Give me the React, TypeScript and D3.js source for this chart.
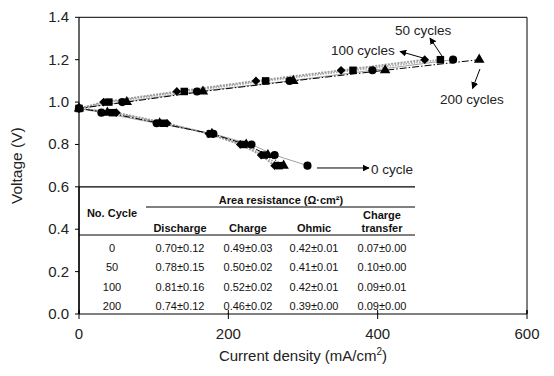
import React from "react";
import * as d3 from "d3";

// ---- data ----
const voltages = [0.70, 0.75, 0.80, 0.85, 0.90, 0.95, 0.97, 1.00, 1.05, 1.10, 1.15, 1.20];
const current0 = [306, 262, 231, 180, 104, 30, 0, 58, 158, 282, 393, 501];
const current50 = [268, 248, 220, 176, 113, 45, 0, 40, 141, 250, 367, 484];
const current100 = [262, 244, 216, 174, 118, 50, 0, 33, 131, 237, 351, 463];
const current200 = [274, 253, 224, 178, 108, 38, 0, 64, 166, 287, 410, 536];

const xTicks = [0, 200, 400, 600];
const yTicks = [0, 0.2, 0.4, 0.6, 0.8, 1.0, 1.2, 1.4];

const tableCycles = ["0", "50", "100", "200"];
const tableDischarge = ["0.70±0.12", "0.78±0.15", "0.81±0.16", "0.74±0.12"];
const tableCharge = ["0.49±0.03", "0.50±0.02", "0.52±0.02", "0.46±0.02"];
const tableOhmic = ["0.42±0.01", "0.41±0.01", "0.42±0.01", "0.39±0.00"];
const tableTransfer = ["0.07±0.00", "0.10±0.00", "0.09±0.01", "0.09±0.00"];

// annotations: label, text anchor (data), arrow tail, arrow head (data)
const annLabels = ["0 cycle", "100 cycles", "50 cycles", "200 cycles"];
const annText = [[391, 0.66], [337.5, 1.222], [423.2, 1.3167], [483.5, 0.991]];
const annTail = [[318.7, 0.689], [460.7, 1.208], [486.1, 1.2175], [537, 1.156]];
const annHead = [[388.4, 0.689], [429.9, 1.239], [470, 1.3025], [527, 1.064]];

const W = 554, H = 376;
const FONT = "'Liberation Sans', Arial, Helvetica, sans-serif";

export default function App() {
  const x = d3.scaleLinear().domain([0, 600]).range([79, 527]);
  const y = d3.scaleLinear().domain([0, 1.4]).range([314, 17.3]);

  const series = [
    { vals: current0, sym: "circle", stroke: "#8a8a8a", width: 0.8, dash: "" },
    { vals: current50, sym: "square", stroke: "#a8a8a8", width: 1.8, dash: "1.5,1.2" },
    { vals: current100, sym: "diamond", stroke: "#9a9a9a", width: 1.8, dash: "2,1.2" },
    { vals: current200, sym: "triangle", stroke: "#000", width: 1, dash: "7,2,1.5,2" },
  ];

  const line = d3
    .line<number>()
    .x((d) => x(d))
    .y((_, i) => y(voltages[i]));

  const symPath = (s: string) => {
    if (s === "circle") return d3.symbol().type(d3.symbolCircle).size(52)()!;
    if (s === "square") return d3.symbol().type(d3.symbolSquare).size(56)()!;
    if (s === "diamond") return d3.symbol().type(d3.symbolSquare).size(38)()!;
    return d3.symbol().type(d3.symbolTriangle).size(48)()!;
  };

  const tblX0 = x(0), tblX1 = x(450);
  const tTop = y(0.6);
  const colX = [112, 180, 248, 314, 382];
  const rowY = [252, 271, 291, 310];
  const cols = [tableCycles, tableDischarge, tableCharge, tableOhmic, tableTransfer];

  return (
    <svg width={W} height={H} style={{ display: "block", position: "absolute", left: 0, top: 0 }} fontFamily={FONT}>
      <defs>
        <marker id="ah" viewBox="0 0 10 10" refX="9" refY="5" markerWidth="7" markerHeight="7" markerUnits="userSpaceOnUse" orient="auto">
          <path d="M0,0 L10,5 L0,10 z" fill="#000" />
        </marker>
      </defs>
      <rect width={W} height={H} fill="#fff" />

      {/* series lines */}
      {series.map((s, i) => (
        <path key={"l" + i} d={line(s.vals)!} fill="none" stroke={s.stroke} strokeWidth={s.width} strokeDasharray={s.dash} />
      ))}
      {/* markers */}
      {series.map((s, i) =>
        s.vals.map((v, j) => (
          <path
            key={"m" + i + "-" + j}
            d={symPath(s.sym)}
            transform={`translate(${x(v)},${y(voltages[j])})${s.sym === "diamond" ? " rotate(45)" : ""}`}
            fill="#000"
          />
        ))
      )}

      {/* frame */}
      <line x1={x(0)} x2={x(600)} y1={y(1.4)} y2={y(1.4)} stroke="#000" strokeWidth={1} />
      <line x1={x(600)} x2={x(600)} y1={y(1.4)} y2={y(0)} stroke="#000" strokeWidth={1} />
      <line x1={x(0)} x2={x(600)} y1={y(0)} y2={y(0)} stroke="#000" strokeWidth={1.2} />
      <line x1={x(0)} x2={x(0)} y1={y(1.4)} y2={y(0)} stroke="#000" strokeWidth={1.2} />

      {/* y ticks */}
      {yTicks.map((t) => (
        <g key={"y" + t}>
          <line x1={x(0) - 4} x2={x(0)} y1={y(t)} y2={y(t)} stroke="#000" />
          <text x={69} y={y(t) + 5} textAnchor="end" fontSize={15} fill="#222">
            {t.toFixed(1)}
          </text>
        </g>
      ))}
      {/* x ticks */}
      {xTicks.map((t) => (
        <g key={"x" + t}>
          <line x1={x(t)} x2={x(t)} y1={y(0) - 4} y2={y(0) + 5} stroke="#000" />
          <text x={x(t)} y={y(0) + 25} textAnchor="middle" fontSize={15} fill="#222">
            {t}
          </text>
        </g>
      ))}

      {/* axis titles */}
      <text transform={`translate(22,${(y(0) + y(1.4)) / 2}) rotate(-90)`} textAnchor="middle" fontSize={15.5} fill="#222">
        Voltage (V)
      </text>
      <text x={(x(0) + x(600)) / 2} y={361} textAnchor="middle" fontSize={15} fill="#222">
        Current density (mA/cm<tspan fontSize={10} dy={-6}>2</tspan>
        <tspan dy={6}>)</tspan>
      </text>

      {/* annotations */}
      {annLabels.map((lab, i) => (
        <g key={"a" + i}>
          <line
            x1={x(annTail[i][0])}
            y1={y(annTail[i][1])}
            x2={x(annHead[i][0])}
            y2={y(annHead[i][1])}
            stroke="#000"
            strokeWidth={1}
            markerEnd="url(#ah)"
          />
          <text x={x(annText[i][0])} y={y(annText[i][1])} fontSize={13.5} fill="#222">
            {lab}
          </text>
        </g>
      ))}

      {/* table */}
      <rect x={tblX0 + 1} y={tTop} width={tblX1 - tblX0 - 1} height={y(0) - tTop - 1} fill="#fff" />
      <line x1={tblX0} x2={tblX1} y1={tTop} y2={tTop} stroke="#000" strokeWidth={1.2} />
      <line x1={146} x2={tblX1} y1={207} y2={207} stroke="#000" strokeWidth={1} />
      <line x1={tblX0} x2={tblX1} y1={235} y2={235} stroke="#000" strokeWidth={1} />
      <g fontSize={11} fontWeight="bold" fill="#111" textAnchor="middle">
        <text x={281} y={204}>Area resistance (Ω·cm²)</text>
        <text x={colX[0]} y={217}>No. Cycle</text>
        <text x={colX[1]} y={232}>Discharge</text>
        <text x={colX[2]} y={232}>Charge</text>
        <text x={colX[3]} y={232}>Ohmic</text>
        <text x={colX[4]} y={219}>Charge</text>
        <text x={colX[4]} y={232}>transfer</text>
      </g>
      <g fontSize={11} fill="#111" textAnchor="middle">
        {cols.map((c, ci) =>
          c.map((v, ri) => (
            <text key={"t" + ci + "-" + ri} x={colX[ci]} y={rowY[ri]}>
              {v}
            </text>
          ))
        )}
      </g>
      {/* redraw x ticks over table */}
      {xTicks.map((t) => (
        <line key={"xt" + t} x1={x(t)} x2={x(t)} y1={y(0) - 4} y2={y(0)} stroke="#000" />
      ))}
      <line x1={x(0)} x2={x(0)} y1={tTop} y2={y(0)} stroke="#000" strokeWidth={1.2} />
    </svg>
  );
}
